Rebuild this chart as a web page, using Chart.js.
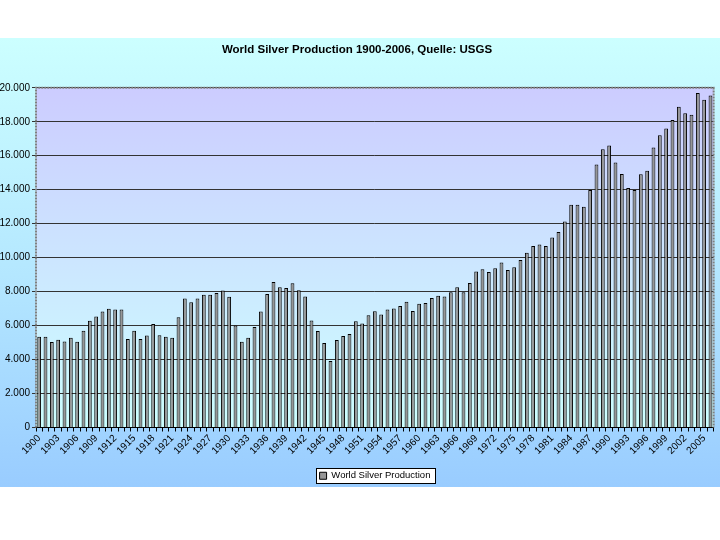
<!DOCTYPE html>
<html>
<head>
<meta charset="utf-8">
<script src="https://cdn.jsdelivr.net/npm/chart.js@4/dist/chart.umd.min.js"></script>
<style>
  body { margin: 0; background: #ffffff; }
  #wrap {
    position: absolute; left: 0; top: 38px; width: 720px; height: 449px;
    background: linear-gradient(to bottom, #ccffff 0%, #b3e6ff 55%, #99ccff 100%);
  }
  canvas { display: block; }
</style>
</head>
<body>
<div id="wrap"><canvas id="chart" width="720" height="449"></canvas></div>
<script>
// Weltproduktion Silber in Tonnen, 1900-2006 (USGS)
var firstYear = 1900;
var production = [
  5350, 5350, 5030, 5170, 5070, 5290, 5050, 5700, 6280, 6530,
  6830, 6990, 6950, 6950, 5210, 5690, 5210, 5410, 6100, 5430,
  5350, 5290, 6490, 7600, 7370, 7600, 7820, 7820, 7920, 8060,
  7700, 6000, 5050, 5290, 5920, 6830, 7860, 8570, 8260, 8220,
  8490, 8080, 7720, 6300, 5680, 4970, 3920, 5150, 5390, 5500,
  6260, 6120, 6610, 6840, 6660, 6950, 7010, 7150, 7410, 6860,
  7290, 7330, 7620, 7760, 7720, 7960, 8250, 7960, 8510, 9180,
  9320, 9150, 9380, 9720, 9280, 9440, 9860, 10290, 10690, 10780,
  10690, 11180, 11510, 12130, 13120, 13120, 13000, 13990, 15490, 16380,
  16610, 15600, 14930, 14100, 13980, 14910, 15110, 16480, 17210, 17600,
  18100, 18890, 18500, 18420, 19700, 19290, 19540
];
var shownYears = ["1900","1903","1906","1909","1912","1915","1918","1921","1924","1927",
  "1930","1933","1936","1939","1942","1945","1948","1951","1954","1957","1960","1963",
  "1966","1969","1972","1975","1978","1981","1984","1987","1990","1993","1996","1999",
  "2002","2005"];
var seriesName = "World Silver Production";
var chartTitle = "World Silver Production 1900-2006, Quelle: USGS";

var years = [];
for (var i = 0; i < production.length; i++) {
  years.push(String(firstYear + i));
}

function punkt(v) {
  return String(v).replace(/\B(?=(\d{3})+(?!\d))/g, ".");
}

// Legende unter die Zeichenfläche schieben, mittig
var legendCenterX = 375, legendTop = 433;

var decor = {
  id: "decor",
  beforeDraw: function (chart) {
    var ctx = chart.ctx, a = chart.chartArea;
    var lg = chart.legend;
    var hb = lg.legendHitBoxes[0];
    if (hb) {
      var dx = legendCenterX - (hb.left + hb.width / 2);
      var dy = legendTop - hb.top;
      lg.left += dx; lg.right += dx; lg.top += dy; lg.bottom += dy;
      lg.legendHitBoxes.forEach(function (b) { b.left += dx; b.top += dy; });
    }
    var g = ctx.createLinearGradient(0, a.top, 0, a.bottom);
    g.addColorStop(0, "#ccccff");
    g.addColorStop(1, "#ccffff");
    ctx.save();
    ctx.fillStyle = g;
    ctx.fillRect(a.left, a.top, a.right - a.left, a.bottom - a.top);
    if (hb) {
      ctx.fillStyle = "#ffffff";
      ctx.strokeStyle = "#000000";
      ctx.lineWidth = 1;
      var x = Math.round(hb.left - 4) + 0.5, y = Math.round(hb.top - 3) + 0.5;
      ctx.fillRect(x, y, Math.round(hb.width + 8), Math.round(hb.height + 5));
      ctx.strokeRect(x, y, Math.round(hb.width + 8), Math.round(hb.height + 5));
    }
    ctx.restore();
  },
  afterDatasetsDraw: function (chart) {
    var ctx = chart.ctx, a = chart.chartArea;
    ctx.save();
    ctx.strokeStyle = "#808080";
    ctx.lineWidth = 2;
    ctx.setLineDash([2, 1]);
    ctx.beginPath();
    ctx.moveTo(a.left, a.bottom);
    ctx.lineTo(a.left, a.top);
    ctx.lineTo(a.right, a.top);
    ctx.lineTo(a.right, a.bottom);
    ctx.stroke();
    ctx.restore();
  }
};

var ctx = document.getElementById("chart").getContext("2d");
new Chart(ctx, {
  type: "bar",
  data: {
    labels: years,
    datasets: [
      {
        label: seriesName,
        data: production,
        backgroundColor: "#969696",
        borderColor: "#000000",
        borderWidth: 1,
        categoryPercentage: 1,
        barPercentage: 0.6,
      },
    ],
  },
  options: {
    responsive: false,
    animation: false,
    layout: { padding: { left: 0, right: 6, top: 0, bottom: 3 } },
    plugins: {
      title: {
        display: true,
        text: chartTitle,
        color: "#000000",
        font: { family: "Arial, 'Liberation Sans'", size: 11.5, weight: "bold" },
        padding: { top: 5, bottom: 31 },
      },
      legend: {
        position: "bottom",
        labels: {
          color: "#000000",
          boxWidth: 7,
          boxHeight: 7,
          padding: 0,
          font: { family: "Arial, 'Liberation Sans'", size: 9.5 },
        },
      },
      tooltip: { enabled: false },
    },
    scales: {
      x: {
        afterFit: function (scale) { scale.height = 37; },
        grid: {
          display: true,
          drawOnChartArea: false,
          drawTicks: true,
          tickLength: 4,
          color: "#000000",
        },
        border: { display: true, color: "#000000" },
        ticks: {
          autoSkip: false,
          minRotation: 45,
          maxRotation: 45,
          padding: 1,
          color: "#000000",
          font: { family: "Arial, 'Liberation Sans'", size: 10 },
          callback: function (value, index) {
            var y = years[index];
            return shownYears.indexOf(y) >= 0 ? y : "";
          },
        },
      },
      y: {
        min: 0,
        max: 20000,
        afterFit: function (scale) { scale.width = 36; },
        grid: {
          color: "#333333",
          tickLength: 4,
        },
        border: { display: false },
        ticks: {
          stepSize: 2000,
          padding: 2,
          color: "#000000",
          font: { family: "Arial, 'Liberation Sans'", size: 10 },
          callback: function (v) { return punkt(v); },
        },
      },
    },
  },
  plugins: [decor],
});
</script>
</body>
</html>
